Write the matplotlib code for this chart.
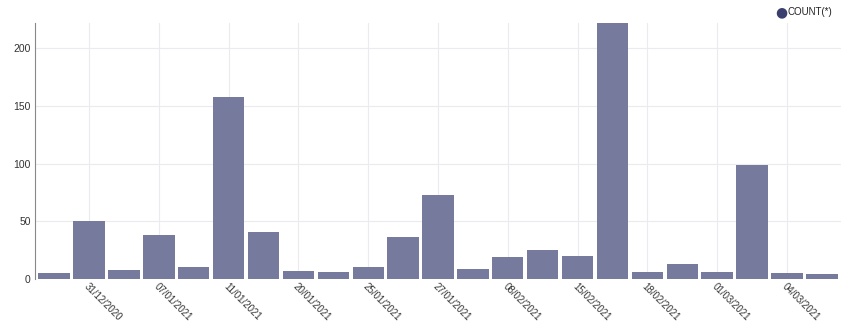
import numpy as np
import matplotlib
matplotlib.use("Agg")
import matplotlib.pyplot as plt

plt.rcParams["font.family"] = ["Liberation Sans", "DejaVu Sans"]

BAR_COLOR = "#767a9c"
DOT_COLOR = "#3b3f6e"
GRID_COLOR = "#ebebef"

counts = [5, 50, 8, 38, 10, 158, 41, 7, 6, 10, 36, 73, 9, 19, 25, 20, 222, 6, 13, 6, 99, 5, 4]
tick_labels = ["31/12/2020", "07/01/2021", "11/01/2021", "20/01/2021", "25/01/2021",
               "27/01/2021", "08/02/2021", "15/02/2021", "18/02/2021", "01/03/2021",
               "04/03/2021"]
tick_pos = [1, 3, 5, 7, 9, 11, 13, 15, 17, 19, 21]

fig = plt.figure(figsize=(8.51, 3.34), dpi=100)
ax = fig.add_axes([35 / 851, 55 / 334, 806 / 851, 256 / 334])

x = np.arange(len(counts))
ax.bar(x, counts, width=0.9, color=BAR_COLOR, zorder=2)

ax.set_xlim(-0.55, len(counts) - 0.45)
ax.set_ylim(0, max(counts))
ax.set_yticks([0, 50, 100, 150, 200])
ax.set_xticks(tick_pos)
ax.set_xticklabels(tick_labels, rotation=-45, ha="left", va="top",
                   rotation_mode="anchor", fontsize=7, color="#333333")
ax.tick_params(axis="y", labelsize=7.5, colors="#333333", length=0, pad=3)
ax.tick_params(axis="x", length=0, pad=2)

ax.grid(True, color=GRID_COLOR, linewidth=0.8, zorder=0)
ax.set_axisbelow(True)
for s in ["top", "right", "bottom"]:
    ax.spines[s].set_visible(False)
ax.spines["left"].set_color("#888888")
ax.spines["left"].set_linewidth(0.8)

# legend
fig.text(781 / 851, 1 - 12 / 334, "\u25cf", color=DOT_COLOR, fontsize=10,
         ha="center", va="center", family="DejaVu Sans")
fig.text(787 / 851, 1 - 12 / 334, "COUNT(*)", color="#222222", fontsize=7,
         ha="left", va="center")

fig.savefig("out.png", dpi=100)
